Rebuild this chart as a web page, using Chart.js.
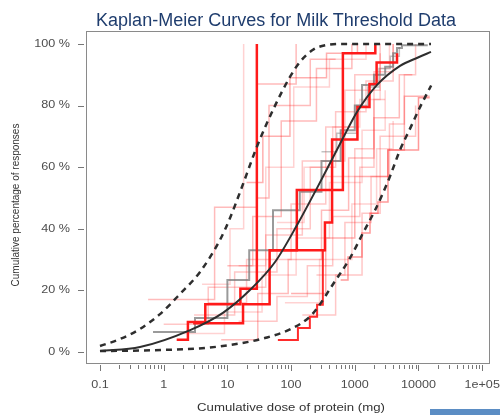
<!DOCTYPE html>
<html>
<head>
<meta charset="utf-8">
<title>Kaplan-Meier Curves for Milk Threshold Data</title>
<script src="https://cdn.jsdelivr.net/npm/chart.js@4.4.1/dist/chart.umd.min.js"></script>
<style>
  html, body { margin: 0; padding: 0; background: #fff; }
  #wrap { position: relative; width: 500px; height: 415px; overflow: hidden; }
  #kmChart { position: absolute; left: 0; top: 0; }
  h1 {
    position: absolute; left: 0; top: 10px; width: 552px; margin: 0;
    text-align: center; font: normal 18px/20px "Liberation Sans", Arial, sans-serif;
    color: #1f3d6e;
  }
  .tab { position: absolute; left: 430px; top: 409px; width: 70px; height: 6px; background: #5b8dc4; }
</style>
</head>
<body>
<div id="wrap">
  <canvas id="kmChart" width="500" height="415"></canvas>
  <h1>Kaplan-Meier Curves for Milk Threshold Data</h1>
  <div class="tab"></div>
</div>
<script>
// Axis ticks
const xMajorTicks = [0.1, 1, 10, 100, 1000, 10000, 100000];
const xTickLabels = ['0.1', '1', '10', '100', '1000', '10000', '1e+05'];
const yTicks = [0, 20, 40, 60, 80, 100];
const yTickLabels = ['0 %', '20 %', '40 %', '60 %', '80 %', '100 %'];

// Fitted distribution and its bounds: [cumulative dose mg, % responding]
const fitMedian = [[0.1, 0.3], [0.425, 1.6], [2.6, 7.1], [8.5, 12.7], [22.6, 20.1], [56, 29.2],
  [124, 41.2], [255, 53.2], [630, 68.8], [1083, 77.9], [2235, 86.7], [5130, 92.9],
  [9820, 95.6], [15700, 97.4]];
const fitUpper = [[0.1, 1.95], [0.206, 4.2], [0.425, 7.5], [0.875, 12.3], [1.8, 18.8],
  [3.72, 26], [7.66, 36.4], [11, 43.5], [15.8, 51.9], [30.2, 67.5], [55.8, 79.9], [96, 89.3],
  [138, 94.2], [221, 98.1], [317, 99.4], [586, 100], [15700, 100]];
const fitLower = [[0.1, 0.3], [0.5, 0.5], [2, 0.9], [5, 1.4], [16, 2.8], [40, 4.6], [100, 7.5],
  [196, 11.4], [256, 14.2], [455, 22], [841, 30.5], [1346, 38.6], [2076, 46], [2770, 51.6],
  [3570, 57], [5130, 65.6], [7370, 72.5], [10570, 79.5], [15800, 86.5]];

// Kaplan-Meier step curves, one per study: [dose where the step happens, cumulative %]
const kmBold1 = [[1.6, 4], [2.4, 9.7], [4.5, 15.5], [16, 20.5], [29, 100]];
const kmBold2 = [[2.9, 9.3], [17.6, 15.5], [46, 33], [340, 42], [440, 69], [1100, 79.5],
  [1700, 87], [2200, 94], [4600, 97]];
const kmBold3 = [[46, 33], [123, 52.6], [650, 97], [2100, 100]];
const kmLowRed = [[62, 3.9], [128, 7.8], [197, 11.4], [256, 15.3], [315, 33], [340, 33]];
const kmRightRed = [[600, 23.4], [782, 30.8], [1297, 38.6], [1733, 45], [2313, 48.7],
  [3320, 65.6], [10000, 82.5], [15000, 82.5]];
const kmGrey1 = [[0.68, 6.5], [3.1, 11], [10, 23.4], [22, 33], [52, 46], [137, 52], [300, 62],
  [600, 72], [1000, 80], [1300, 86.7], [2000, 90], [3000, 92.6], [4000, 97], [4600, 98.7],
  [5500, 99.6], [14000, 99.6]];
const kmGrey2 = [[300, 65], [520, 71], [1070, 80], [1600, 86], [2400, 92], [3600, 96], [5000, 99]];
const kmFaint = [
  [[0.57, 17], [6.3, 47], [29, 87], [120, 100]],
  [[20, 55], [36, 70], [96, 89], [360, 97], [1100, 100]],
  [[3, 12], [13, 26], [60, 40], [200, 60], [500, 78], [1500, 88], [4000, 100]],
  [[8, 4], [30, 19], [90, 30], [300, 46], [800, 63], [2000, 76], [5000, 90], [8000, 90]],
  [[100, 19], [350, 37], [1000, 57], [3300, 65.6], [6000, 83], [15000, 83]],
  [[1, 9], [5, 21], [40, 38], [150, 62], [700, 85], [2500, 100]],
  [[10, 28], [25, 44], [70, 75], [250, 92], [900, 100]],
  [[150, 12], [500, 25], [1300, 45], [2500, 70], [9000, 80]],
  [[30, 50], [45, 80], [200, 95], [500, 95]],
  [[2, 6], [9, 13], [35, 25], [120, 37], [400, 55], [1300, 72], [3000, 85]],
  [[4, 22], [11, 40], [18, 100]],
  [[15, 10], [60, 18], [180, 28], [450, 44], [1200, 60], [2000, 82], [3000, 82]],
  [[300, 57], [1000, 66], [2000, 91], [4000, 100]],
  [[60, 42], [160, 60], [450, 73], [1200, 82], [2500, 92], [3500, 100]],
  [[250, 25], [700, 42], [1800, 57], [3500, 74], [6000, 90], [9000, 100]],
  [[80, 16], [280, 30], [900, 48], [2200, 66], [4000, 75]],
  [[15, 28], [40, 60], [110, 86], [400, 95], [1500, 100]],
  [[5, 16], [20, 30], [100, 48], [350, 73], [1000, 90], [2500, 97]]
];
const faintAlpha = [0.3, 0.35, 0.25, 0.3, 0.35, 0.25, 0.3, 0.25, 0.3, 0.2, 0.2, 0.25,
  0.25, 0.2, 0.25, 0.2, 0.2, 0.25];

const toXY = pairs => pairs.map(([d, p]) => ({ x: d, y: p }));

function stepSet(pairs, color, width, order) {
  return {
    data: toXY(pairs), stepped: true, borderColor: color, borderWidth: width,
    pointRadius: 0, order: order, borderJoinStyle: 'miter', borderCapStyle: 'butt'
  };
}

function curveSet(pairs, dash) {
  return {
    data: toXY(pairs), borderColor: '#2e2e2e', borderWidth: dash ? 2.5 : 2,
    borderDash: dash ? [6, 5] : [], pointRadius: 0,
    cubicInterpolationMode: 'monotone', order: 0
  };
}

const datasets = [
  curveSet(fitMedian, false),
  curveSet(fitUpper, true),
  curveSet(fitLower, true),
  stepSet(kmBold1, '#ff1a1a', 2.5, 1),
  stepSet(kmBold2, '#ff1a1a', 2.5, 1),
  stepSet(kmBold3, '#ff1a1a', 2.5, 1),
  stepSet(kmLowRed, 'rgba(255,20,20,0.9)', 2, 1),
  stepSet(kmRightRed, 'rgba(255,30,30,0.45)', 1.5, 2),
  stepSet(kmGrey1, 'rgba(120,120,120,0.75)', 2, 2),
  stepSet(kmGrey2, 'rgba(120,120,120,0.45)', 1.5, 2)
];
kmFaint.forEach((c, i) => datasets.push(stepSet(c, `rgba(255,30,30,${faintAlpha[i]})`, 1.5, 3)));

// Minor ticks at 2..9 within each decade
const xMinorTicks = [];
xMajorTicks.slice(0, -1).forEach(m => { for (let k = 2; k <= 9; k++) xMinorTicks.push(m * k); });

const TEXT_STRETCH = 1.2;
function stretchedText(ctx, text, x, y) {
  ctx.save();
  ctx.translate(x, y);
  ctx.scale(TEXT_STRETCH, 1);
  ctx.fillText(text, 0, 0);
  ctx.restore();
}

// base-graphics style box, ticks and axis titles
const rAxes = {
  id: 'rAxes',
  beforeDatasetsDraw(chart) {
    const { ctx, chartArea: a } = chart;
    ctx.save();
    ctx.strokeStyle = '#8a8a8a';
    ctx.lineWidth = 1;
    ctx.strokeRect(Math.round(a.left) + 0.5, Math.round(a.top) + 0.5,
      Math.round(a.right - a.left) - 1, Math.round(a.bottom - a.top) - 1);
    ctx.restore();
  },
  afterDraw(chart) {
    const { ctx, chartArea: a, scales: { x, y } } = chart;
    ctx.save();
    ctx.strokeStyle = '#777';
    ctx.lineWidth = 1;
    ctx.beginPath();
    xMinorTicks.forEach(v => {
      const px = Math.round(x.getPixelForValue(v)) + 0.5;
      ctx.moveTo(px, a.bottom + 1);
      ctx.lineTo(px, a.bottom + 5);
    });
    xMajorTicks.forEach(v => {
      const px = Math.round(x.getPixelForValue(v)) + 0.5;
      ctx.moveTo(px, a.bottom + 1);
      ctx.lineTo(px, a.bottom + 7);
    });
    yTicks.forEach(v => {
      const py = Math.round(y.getPixelForValue(v)) + 0.5;
      ctx.moveTo(a.left - 8, py);
      ctx.lineTo(a.left - 2, py);
    });
    ctx.stroke();

    ctx.fillStyle = '#4d4d4d';
    ctx.font = '10.5px "Liberation Sans", Arial, sans-serif';
    ctx.textAlign = 'center';
    ctx.textBaseline = 'alphabetic';
    xMajorTicks.forEach((v, i) => stretchedText(ctx, xTickLabels[i], x.getPixelForValue(v), a.bottom + 24));

    ctx.textAlign = 'right';
    ctx.textBaseline = 'middle';
    yTicks.forEach((v, i) => stretchedText(ctx, yTickLabels[i], a.left - 16, y.getPixelForValue(v)));

    ctx.fillStyle = '#333';
    ctx.font = '11px "Liberation Sans", Arial, sans-serif';
    ctx.textAlign = 'center';
    ctx.textBaseline = 'alphabetic';
    stretchedText(ctx, 'Cumulative dose of protein (mg)', 291, a.bottom + 47);

    ctx.font = '10px "Liberation Sans", Arial, sans-serif';
    ctx.translate(19, 205);
    ctx.rotate(-Math.PI / 2);
    ctx.fillText('Cumulative percentage of responses', 0, 0);
    ctx.restore();
  }
};

new Chart(document.getElementById('kmChart'), {
  type: 'line',
  data: { datasets },
  options: {
    responsive: false,
    animation: false,
    layout: { padding: { left: 86, top: 31, right: 10, bottom: 51 } },
    plugins: { legend: { display: false }, tooltip: { enabled: false }, title: { display: false } },
    scales: {
      x: { type: 'logarithmic', min: 0.0603, max: 132600, display: false },
      y: { type: 'linear', min: -3.9, max: 104.2, display: false }
    }
  },
  plugins: [rAxes]
});
</script>
</body>
</html>
